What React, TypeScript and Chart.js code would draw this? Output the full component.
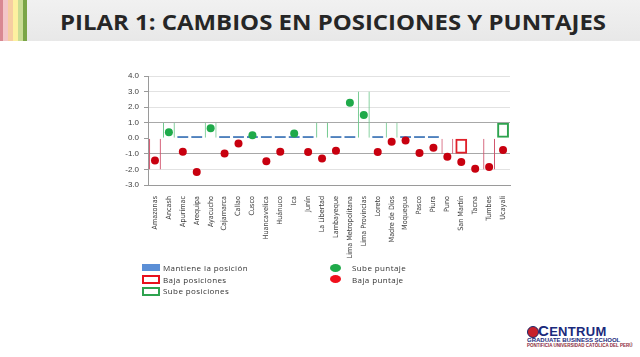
import React, { useEffect, useRef } from "react";
import { Chart, registerables } from "chart.js";

Chart.register(...registerables);

// ---------- DATA ----------
const categories = [
  "Amazonas", "Ancash", "Apurímac", "Arequipa", "Ayacucho", "Cajamarca", "Callao", "Cusco",
  "Huancavelica", "Huánuco", "Ica", "Junín", "La Libertad", "Lambayeque", "Lima Metropolitana",
  "Lima Provincias", "Loreto", "Madre de Dios", "Moquegua", "Pasco", "Piura", "Puno",
  "San Martín", "Tacna", "Tumbes", "Ucayali",
];
// change in ranking positions (null = no mark)
const positionChange = [-2, 1, 0, 0, 1, 0, 0, 0, 0, 0, 0, 0, 1, 0, 0, 3, 0, 1, 0, 0, 0, -1, -1, null, -2, 1];
// change in score
const scoreChange = [
  -1.43, 0.38, -0.86, -2.16, 0.64, -0.98, -0.34, 0.19, -1.47, -0.86, 0.3, -0.88, -1.3, -0.8,
  2.28, 1.5, -0.88, -0.22, -0.15, -0.94, -0.6, -1.18, -1.52, -1.95, -1.85, -0.75,
];
const yMin = -3;
const yMax = 4;
const legendLeft = ["Mantiene la posición", "Baja posiciones", "Sube posiciones"];
const legendRight = ["Sube puntaje", "Baja puntaje"];
const fullOutline = ["San Martín", "Ucayali"];
const title = "PILAR 1: CAMBIOS EN POSICIONES Y PUNTAJES";

// ---------- STYLE ----------
const BLUE = "#4f81bd";
const RED_LINE = "#d0506a";
const RED_BOX = "#e0202a";
const GREEN_LINE = "#6cc78a";
const GREEN_BOX = "#2ea34f";
const RED_DOT = "#c8000f";
const GREEN_DOT = "#1faa4a";

function ChartCanvas() {
  const ref = useRef<HTMLCanvasElement>(null);
  useEffect(() => {
    const canvas = ref.current;
    if (!canvas) return;
    const sideOnly = { left: 1, right: 1, top: 0, bottom: 0 };
    const full = { left: 2, right: 2, top: 2, bottom: 2 };
    const bw = (ctx: any) =>
      fullOutline.includes(categories[ctx.dataIndex]) ? full : sideOnly;
    const chart = new Chart(canvas, {
      type: "bar",
      data: {
        labels: categories,
        datasets: [
          {
            type: "line",
            label: legendRight[0],
            data: scoreChange.map((v) => (v > 0 ? v : null)),
            showLine: false,
            pointRadius: 4,
            pointBackgroundColor: GREEN_DOT,
            pointBorderColor: GREEN_DOT,
            pointBorderWidth: 0,
            order: 0,
          } as any,
          {
            type: "line",
            label: legendRight[1],
            data: scoreChange.map((v) => (v <= 0 ? v : null)),
            showLine: false,
            pointRadius: 4,
            pointBackgroundColor: RED_DOT,
            pointBorderColor: RED_DOT,
            pointBorderWidth: 0,
            order: 0,
          } as any,
          {
            label: legendLeft[0],
            data: positionChange.map((v) => (v === 0 ? [0.02, 0.14] : null)) as any,
            backgroundColor: BLUE,
            borderWidth: 0,
            barPercentage: 0.78,
            categoryPercentage: 1,
            grouped: false,
            order: 2,
          } as any,
          {
            label: legendLeft[1],
            data: positionChange.map((v) => (v !== null && v < 0 ? [v, 0] : null)) as any,
            backgroundColor: "rgba(0,0,0,0)",
            borderColor: (ctx: any) =>
              fullOutline.includes(categories[ctx.dataIndex]) ? RED_BOX : RED_LINE,
            borderWidth: bw,
            borderSkipped: false,
            barPercentage: 0.85,
            categoryPercentage: 1,
            grouped: false,
            order: 1,
          } as any,
          {
            label: legendLeft[2],
            data: positionChange.map((v) => (v !== null && v > 0 ? [0, v] : null)) as any,
            backgroundColor: "rgba(0,0,0,0)",
            borderColor: (ctx: any) =>
              fullOutline.includes(categories[ctx.dataIndex]) ? GREEN_BOX : GREEN_LINE,
            borderWidth: bw,
            borderSkipped: false,
            barPercentage: 0.85,
            categoryPercentage: 1,
            grouped: false,
            order: 1,
          } as any,
        ],
      },
      options: {
        animation: false,
        responsive: false,
        maintainAspectRatio: false,
        layout: { padding: { top: 10, right: 15, left: 0, bottom: 0 } },
        plugins: { legend: { display: false }, tooltip: { enabled: false } },
        scales: {
          x: {
            grid: { display: false },
            border: { display: true, color: "#9a9a9a" },
            ticks: {
              autoSkip: false,
              maxRotation: 90,
              minRotation: 90,
              padding: 3,
              color: "#404040",
              font: { family: "'Liberation Sans Narrow', 'DejaVu Sans Condensed', sans-serif", size: 7.2 },
            },
            afterFit: (s: any) => {
              s.height = 81;
            },
          },
          y: {
            min: yMin,
            max: yMax,
            ticks: {
              stepSize: 1,
              padding: 5,
              color: "#404040",
              font: { family: "'Liberation Sans', Arial, sans-serif", size: 8 },
              callback: (v: any) => Number(v).toFixed(1),
            },
            grid: {
              drawTicks: true,
              tickLength: 4,
              tickColor: "#9a9a9a",
              color: (ctx: any) => {
                const v = ctx.tick?.value;
                if (v === 1 || v === -1) return "#a8a8a8";
                if (v === 0) return "rgba(0,0,0,0)";
                return "#e2e2e2";
              },
            },
            border: { display: true, color: "#9a9a9a" },
            afterFit: (s: any) => {
              s.width = 48;
            },
          },
        },
      },
    });
    return () => chart.destroy();
  }, []);
  return (
    <canvas
      ref={ref}
      width={425}
      height={200}
      style={{ position: "absolute", left: 100, top: 66, width: 425, height: 200 }}
    />
  );
}

const legendText: React.CSSProperties = {
  position: "absolute",
  fontFamily: "'Open Sans', sans-serif",
  fontSize: 8,
  letterSpacing: 0.4,
  color: "#333",
  lineHeight: "10px",
  whiteSpace: "nowrap",
};

export default function App() {
  const stripes = ["#d98892", "#f3c6c8", "#f6cda2", "#fdf0a0", "#c9dc94", "#7aa547"];
  return (
    <div
      style={{
        position: "absolute",
        left: 0,
        top: 0,
        width: 640,
        height: 357,
        background: "#ffffff",
        overflow: "hidden",
      }}
    >
      {/* title band */}
      <div
        style={{
          position: "absolute",
          left: 0,
          top: 0,
          width: 640,
          height: 41,
          background: "linear-gradient(#f1f1f1, #e8e8e8)",
        }}
      />
      {stripes.map((c, i) => (
        <div
          key={i}
          style={{
            position: "absolute",
            left: [0, 3, 8, 13, 18, 23][i],
            top: 0,
            width: [3, 5, 5, 5, 5, 4][i],
            height: 41,
            background: c,
          }}
        />
      ))}
      <div
        style={{
          position: "absolute",
          left: 60,
          top: 7,
          width: 548,
          height: 30,
          overflow: "visible",
        }}
      >
        <div
          style={{
            display: "inline-block",
            transformOrigin: "0 0",
            transform: "scaleX(1.14)",
            fontFamily: "'Open Sans', sans-serif",
            fontWeight: 700,
            fontSize: 21,
            lineHeight: "30px",
            color: "#262626",
            whiteSpace: "nowrap",
          }}
        >
          {title}
        </div>
      </div>

      <ChartCanvas />

      {/* legend */}
      <div style={{ position: "absolute", left: 142, top: 264, width: 18, height: 7, background: "#5b8fd6" }} />
      <div style={{ position: "absolute", left: 142, top: 275, width: 14, height: 5, border: "2px solid #e8101c" }} />
      <div style={{ position: "absolute", left: 142, top: 287, width: 14, height: 5, border: "2px solid #2ea34f" }} />
      <div style={{ ...legendText, left: 163, top: 263 }}>{legendLeft[0]}</div>
      <div style={{ ...legendText, left: 163, top: 274.5 }}>{legendLeft[1]}</div>
      <div style={{ ...legendText, left: 163, top: 286 }}>{legendLeft[2]}</div>
      <div style={{ position: "absolute", left: 330, top: 264, width: 11, height: 8, borderRadius: "50%", background: "#1faa4a" }} />
      <div style={{ position: "absolute", left: 330, top: 275, width: 11, height: 8, borderRadius: "50%", background: "#f0101c" }} />
      <div style={{ ...legendText, left: 352, top: 263 }}>{legendRight[0]}</div>
      <div style={{ ...legendText, left: 352, top: 274.5 }}>{legendRight[1]}</div>

      {/* logo */}
      <div style={{ position: "absolute", left: 527, top: 326, width: 10, height: 10, borderRadius: "50%", background: "#c8202a", border: "1px solid #1a2a6c" }} />
      <div
        style={{
          position: "absolute",
          left: 538,
          top: 322,
          fontFamily: "'Liberation Sans', Arial, sans-serif",
          fontWeight: 700,
          fontSize: 13,
          color: "#1a2a7c",
          whiteSpace: "nowrap",
          letterSpacing: 0.3,
        }}
      >
        <span style={{ color: "#1a2a7c", fontSize: 15 }}>C</span>ENTRUM
      </div>
      <div
        style={{
          position: "absolute",
          left: 527,
          top: 337,
          fontFamily: "'Liberation Sans', Arial, sans-serif",
          fontWeight: 700,
          fontSize: 6,
          color: "#1a2a7c",
          whiteSpace: "nowrap",
        }}
      >
        GRADUATE BUSINESS SCHOOL
      </div>
      <div
        style={{
          position: "absolute",
          left: 527,
          top: 343,
          fontFamily: "'Liberation Sans Narrow', Arial, sans-serif",
          fontWeight: 700,
          fontSize: 4.5,
          color: "#8a2a3a",
          whiteSpace: "nowrap",
        }}
      >
        PONTIFICIA UNIVERSIDAD CATÓLICA DEL PERÚ
      </div>
    </div>
  );
}
